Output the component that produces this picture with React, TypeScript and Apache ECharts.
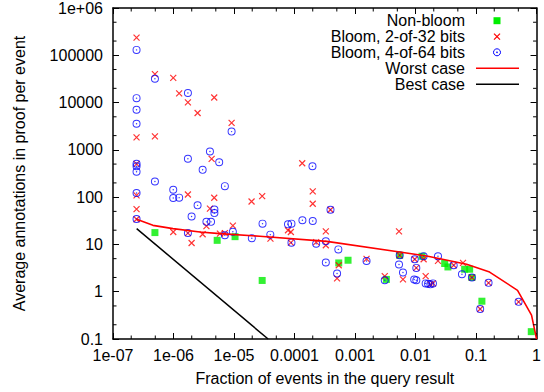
import React, { useEffect, useRef } from "react";
import * as echarts from "echarts";

const X_MIN = 1e-7;
const X_MAX = 1;
const Y_MIN = 0.1;
const Y_MAX = 1e6;

const xTickLabels = ["1e-07", "1e-06", "1e-05", "0.0001", "0.001", "0.01", "0.1", "1"];
const yTickLabels = ["0.1", "1", "10", "100", "1000", "10000", "100000", "1e+06"];

const xMinorTicks = [2e-7, 5e-7, 2e-6, 5e-6, 2e-5, 5e-5, 2e-4, 5e-4, 2e-3, 5e-3, 2e-2, 5e-2, 0.2, 0.5];
const yMinorTicks = [0.2, 0.5, 2, 5, 20, 50, 200, 500, 2000, 5000, 20000, 50000, 200000, 500000];

const legendNames = ["Non-bloom", "Bloom, 2-of-32 bits", "Bloom, 4-of-64 bits", "Worst case", "Best case"];

const nonBloom: [number, number][] = [
  [4.93e-7, 17.8], [5.27e-6, 12.2], [1.04e-5, 14.6], [2.92e-5, 1.73], [5.38e-4, 4.06],
  [7.67e-4, 4.63], [3.3e-3, 1.82], [5.47e-3, 5.9], [0.0128, 5.62], [0.0303, 3.95],
  [0.0343, 3.34], [0.0648, 2.99], [0.0784, 2.99], [0.0855, 2.0], [0.125, 0.63], [0.818, 0.143],
];

const bloom2of32: [number, number][] = [
  [2.45e-7, 237000], [2.45e-7, 1840], [2.45e-7, 506], [2.45e-7, 109], [2.45e-7, 56], [2.45e-7, 34],
  [4.93e-7, 40000], [4.93e-7, 1935], [9.9e-7, 33400], [9.9e-7, 18.3], [1.24e-6, 15600],
  [1.73e-6, 10100], [1.73e-6, 114], [1.73e-6, 17.4], [1.99e-6, 10.7], [2.5e-6, 6030],
  [3.03e-6, 16.4], [3.5e-6, 24.3], [4.0e-6, 57], [4.27e-6, 646], [4.71e-6, 12800], [4.71e-6, 97],
  [5.85e-6, 16.9], [7.06e-6, 17.4], [9.12e-6, 3710], [9.57e-6, 25], [1.95e-5, 81], [2.92e-5, 105],
  [4.0e-5, 13.3], [7.8e-5, 19.9], [8.7e-5, 18.3], [8.7e-5, 10.9], [1.34e-4, 521], [2.0e-4, 132],
  [2.0e-4, 72.6], [2.28e-4, 11.2], [3.29e-4, 18.9], [3.29e-4, 9.6], [3.93e-4, 54], [5.38e-4, 3.63],
  [5.05e-4, 1.91], [1.55e-3, 4.95], [3.1e-3, 2.13], [5.33e-3, 18.9], [5.47e-3, 5.9], [6.2e-3, 1.82],
  [9.7e-3, 4.86], [0.0103, 3.19], [0.0136, 4.86], [0.0147, 2.13], [0.0176, 1.43], [0.0194, 1.5],
  [0.0235, 4.48], [0.0427, 3.63], [0.0609, 4.06], [0.0855, 2.0], [0.161, 1.54], [0.117, 0.43], [0.505, 0.61],
];

const bloom4of64: [number, number][] = [
  [2.45e-7, 130000], [2.45e-7, 12400], [2.45e-7, 7070], [2.45e-7, 3580], [2.45e-7, 506], [2.45e-7, 451],
  [2.45e-7, 344], [2.45e-7, 122], [2.45e-7, 34.4], [4.93e-7, 31800], [4.93e-7, 215],
  [9.9e-7, 143], [9.9e-7, 96], [1.24e-6, 97.6], [1.73e-6, 15900], [1.73e-6, 646], [1.73e-6, 17.4],
  [1.99e-6, 39], [2.5e-6, 67], [3.03e-6, 378], [3.5e-6, 30], [4.0e-6, 920], [4.17e-6, 30],
  [4.74e-6, 55], [4.74e-6, 46], [5.69e-6, 547], [7.06e-6, 171], [7.06e-6, 15.7], [9.12e-6, 2430],
  [9.57e-6, 18.6], [1.97e-5, 13.5], [2.96e-5, 27.5], [3.98e-5, 16.1], [7.8e-5, 26.6], [8.9e-5, 27.5],
  [8.9e-5, 10.9], [1.35e-4, 32.5], [1.98e-4, 451], [2.0e-4, 31.2], [2.28e-4, 10.3], [3.29e-4, 11.7],
  [3.29e-4, 4.14], [3.93e-4, 54], [5.3e-4, 7.85], [5.05e-4, 2.43], [1.55e-3, 4.48], [3.1e-3, 1.75],
  [5.47e-3, 5.9], [5.33e-3, 3.76], [6.2e-3, 2.55], [9.7e-3, 4.86], [0.0103, 3.19], [9.5e-3, 1.82],
  [0.0103, 1.75], [0.0136, 5.62], [0.0147, 1.5], [0.0161, 1.47], [0.0176, 1.43], [0.0194, 1.5],
  [0.0235, 5.62], [0.0427, 3.63], [0.0585, 2.35], [0.0855, 2.0], [0.161, 1.54], [0.117, 0.43], [0.505, 0.61],
];

const worstCase: [number, number][] = [
  [2.46e-7, 33.9], [4.57e-7, 25.3], [9.8e-7, 21.6], [2.73e-6, 18.3], [5.85e-6, 16.9], [2.67e-5, 14.9],
  [3.41e-4, 11.6], [5.47e-3, 6.9], [0.0153, 5.7], [0.0699, 3.8], [0.1675, 2.6], [0.485, 1.07],
  [0.826, 0.32], [1, 0.1],
];

const bestCase: [number, number][] = [
  [2.46e-7, 21.6], [3.66e-5, 0.1],
];

const FONT = "'Liberation Sans', Arial, Helvetica, sans-serif";
const RED = "#ff0000";
const BLUE = "#0000ff";
const GREEN = "#00ee00";

const CROSS = "path://M0,0L8,8M8,0L0,8";
const RING =
  "path://M0,5A5,5,0,1,0,10,5A5,5,0,1,0,0,5ZM1.2,5A3.8,3.8,0,1,1,8.8,5A3.8,3.8,0,1,1,1.2,5ZM4.1,5A0.9,0.9,0,1,0,5.9,5A0.9,0.9,0,1,0,4.1,5Z";

function expIndex(v: number, minExp: number) {
  return Math.round(Math.log10(v)) - minExp;
}

export default function App() {
  const ref = useRef<HTMLDivElement>(null);

  useEffect(() => {
    document.body.style.margin = "0";
    if (!ref.current) return;
    const chart = echarts.init(ref.current, null, { renderer: "svg" });

    const axisCommon = {
      type: "log" as const,
      logBase: 10,
      splitLine: { show: false },
      axisLine: { show: true, onZero: false, lineStyle: { color: "#000", width: 1.5 } },
      axisTick: { show: true, inside: true, length: 6, lineStyle: { color: "#000", width: 1 } },
    };

    const textFont = { fontFamily: FONT, fontSize: 16, color: "#000" };

    const legendX = 465;
    const legendYs = [20.7, 36.7, 52.3, 68.3, 84.3];
    const sx = 497;

    const graphic: any[] = [];
    legendNames.forEach((n, i) => {
      graphic.push({
        type: "text",
        x: legendX,
        y: legendYs[i],
        style: { text: n, fill: "#000", font: `16px ${FONT}`, align: "right", verticalAlign: "middle" },
        z: 100,
      });
    });
    graphic.push({ type: "rect", shape: { x: sx - 3.5, y: legendYs[0] - 3.5, width: 7, height: 7 }, style: { fill: GREEN }, z: 100 });
    graphic.push({ type: "line", shape: { x1: sx - 3, y1: legendYs[1] - 3, x2: sx + 3, y2: legendYs[1] + 3 }, style: { stroke: RED, lineWidth: 1.2 }, z: 100 });
    graphic.push({ type: "line", shape: { x1: sx + 3, y1: legendYs[1] - 3, x2: sx - 3, y2: legendYs[1] + 3 }, style: { stroke: RED, lineWidth: 1.2 }, z: 100 });
    graphic.push({ type: "circle", shape: { cx: sx, cy: legendYs[2], r: 3.5 }, style: { stroke: BLUE, fill: "none", lineWidth: 1 }, z: 100 });
    graphic.push({ type: "circle", shape: { cx: sx, cy: legendYs[2], r: 0.8 }, style: { fill: BLUE }, z: 100 });
    graphic.push({ type: "line", shape: { x1: 476, y1: legendYs[3], x2: 519, y2: legendYs[3] }, style: { stroke: RED, lineWidth: 1.5 }, z: 100 });
    graphic.push({ type: "line", shape: { x1: 476, y1: legendYs[4], x2: 519, y2: legendYs[4] }, style: { stroke: "#000", lineWidth: 1.5 }, z: 100 });

    const option: any = {
      animation: false,
      backgroundColor: "#fff",
      textStyle: { fontFamily: FONT },
      grid: { left: 113, top: 7, right: 7, bottom: 53, containLabel: false },
      xAxis: [
        {
          ...axisCommon,
          min: X_MIN,
          max: X_MAX,
          splitNumber: 7,
          position: "bottom",
          name: "Fraction of events in the query result",
          nameLocation: "middle",
          nameGap: 31,
          nameTextStyle: textFont,
          axisLabel: {
            ...textFont,
            margin: 8,
            formatter: (v: number) => xTickLabels[expIndex(v, -7)] ?? "",
          },
        },
        {
          ...axisCommon,
          min: X_MIN,
          max: X_MAX,
          splitNumber: 7,
          position: "top",
          axisLabel: { show: false },
        },
      ],
      yAxis: [
        {
          ...axisCommon,
          min: Y_MIN,
          max: Y_MAX,
          splitNumber: 7,
          position: "left",
          name: "Average annotations in proof per event",
          nameLocation: "middle",
          nameGap: 86,
          nameTextStyle: textFont,
          axisLabel: {
            ...textFont,
            margin: 10,
            formatter: (v: number) => yTickLabels[expIndex(v, -1)] ?? "",
          },
        },
        {
          ...axisCommon,
          min: Y_MIN,
          max: Y_MAX,
          splitNumber: 7,
          position: "right",
          axisLabel: { show: false },
        },
      ],
      graphic,
      series: [
        {
          name: legendNames[0],
          type: "scatter",
          data: nonBloom,
          symbol: "rect",
          symbolSize: 7,
          itemStyle: { color: GREEN },
          z: 2,
        },
        {
          name: legendNames[1],
          type: "scatter",
          data: bloom2of32,
          symbol: CROSS,
          symbolSize: 6,
          itemStyle: { color: RED, borderColor: RED, borderWidth: 1.2 },
          z: 3,
        },
        {
          name: legendNames[2],
          type: "scatter",
          data: bloom4of64,
          symbol: RING,
          symbolSize: 8,
          itemStyle: { color: BLUE },
          z: 4,
        },
        {
          name: legendNames[3],
          type: "line",
          data: worstCase,
          showSymbol: false,
          symbol: "none",
          clip: true,
          lineStyle: { color: RED, width: 1.6 },
          itemStyle: { color: RED },
          z: 5,
        },
        {
          name: legendNames[4],
          type: "line",
          data: bestCase,
          showSymbol: false,
          symbol: "none",
          clip: true,
          lineStyle: { color: "#000", width: 1.5 },
          itemStyle: { color: "#000" },
          z: 6,
        },
        {
          type: "custom",
          silent: true,
          clip: false,
          data: xMinorTicks.map((v) => [v, 1]),
          renderItem: (_p: any, api: any) => {
            const v = api.value(0);
            const b = api.coord([v, Y_MIN]);
            const t = api.coord([v, Y_MAX]);
            return {
              type: "group",
              children: [
                { type: "line", shape: { x1: b[0], y1: b[1], x2: b[0], y2: b[1] - 3.5 }, style: { stroke: "#000", lineWidth: 1 } },
                { type: "line", shape: { x1: t[0], y1: t[1], x2: t[0], y2: t[1] + 3.5 }, style: { stroke: "#000", lineWidth: 1 } },
              ],
            };
          },
          z: 10,
        },
        {
          type: "custom",
          silent: true,
          clip: false,
          data: yMinorTicks.map((v) => [1e-3, v]),
          renderItem: (_p: any, api: any) => {
            const v = api.value(1);
            const l = api.coord([X_MIN, v]);
            const r = api.coord([X_MAX, v]);
            return {
              type: "group",
              children: [
                { type: "line", shape: { x1: l[0], y1: l[1], x2: l[0] + 3.5, y2: l[1] }, style: { stroke: "#000", lineWidth: 1 } },
                { type: "line", shape: { x1: r[0], y1: r[1], x2: r[0] - 3.5, y2: r[1] }, style: { stroke: "#000", lineWidth: 1 } },
              ],
            };
          },
          z: 10,
        },
      ],
    };

    chart.setOption(option);
    return () => chart.dispose();
  }, []);

  return <div ref={ref} style={{ width: 544, height: 392 }} />;
}
